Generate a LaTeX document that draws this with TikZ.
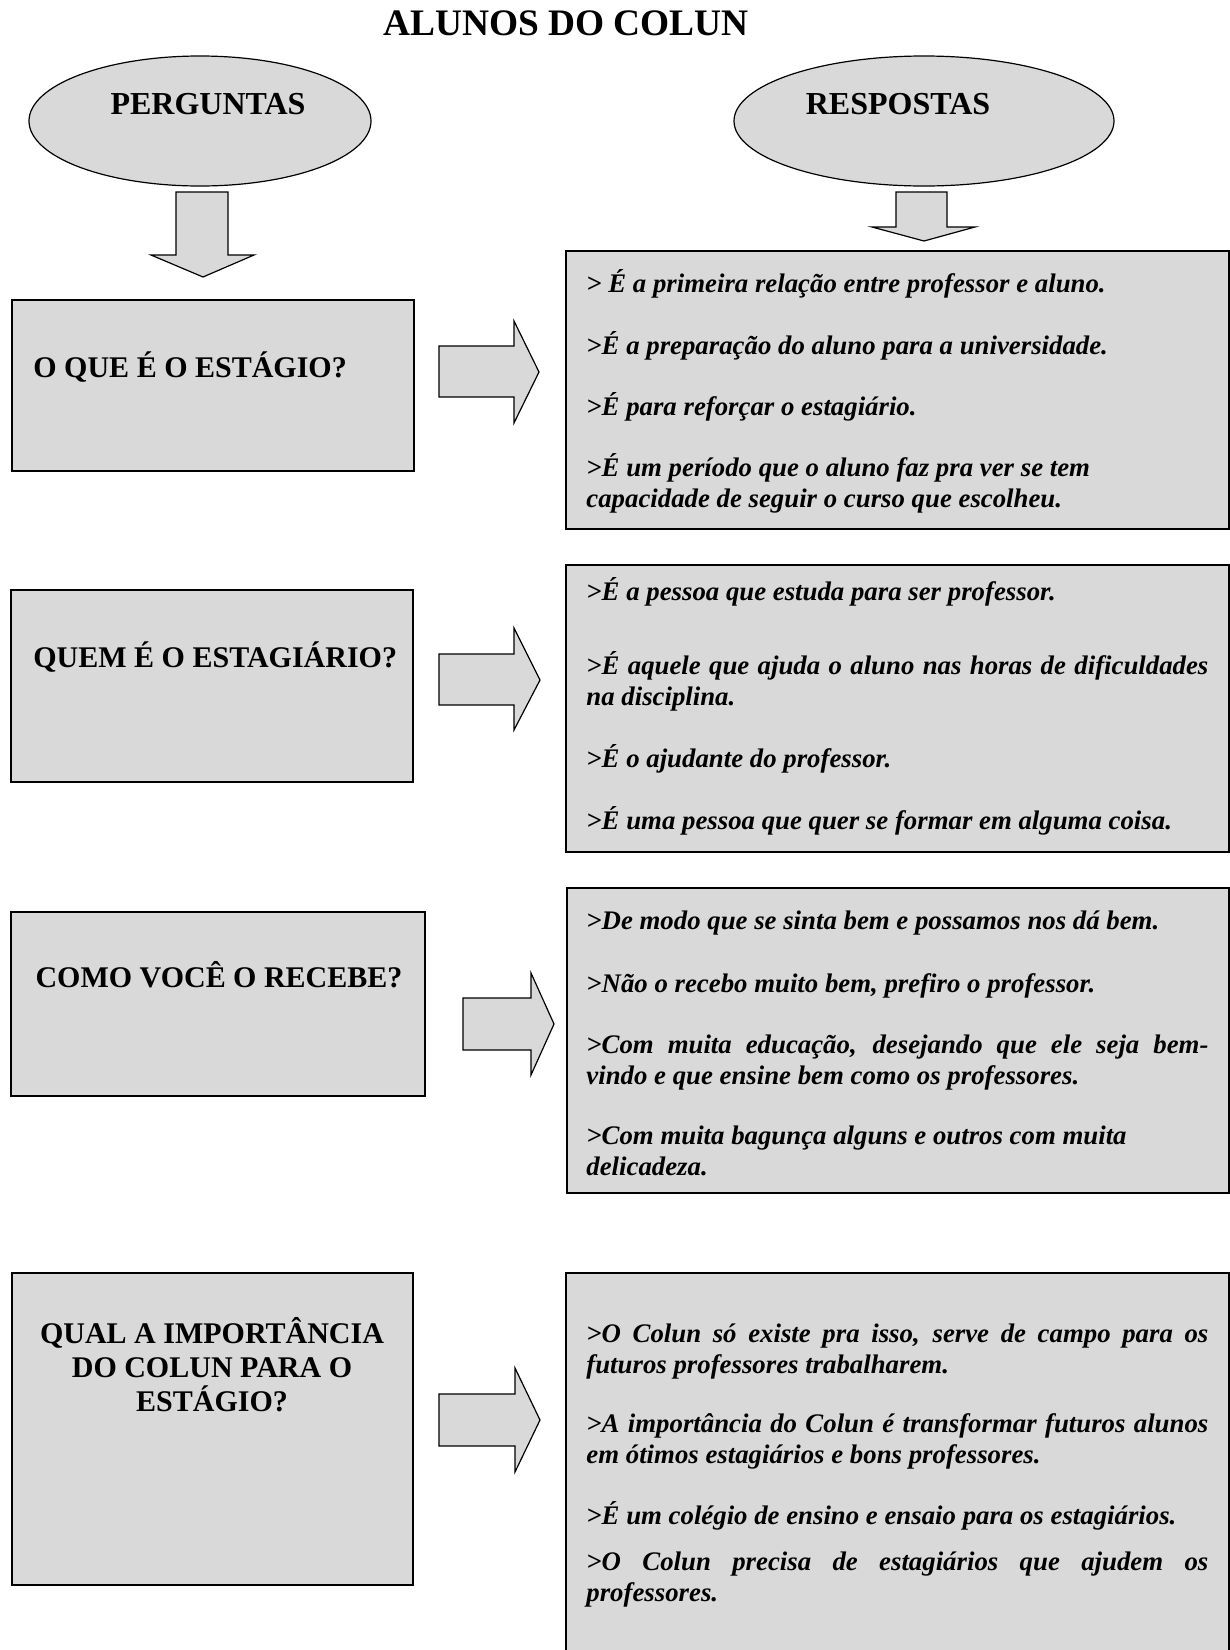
\documentclass[tikz,border=0pt]{standalone}
\usepackage{fontspec}
\setmainfont{Liberation Serif}
\usetikzlibrary{shapes.geometric}
\hyphenpenalty=10000
\begin{document}
\begin{tikzpicture}[x=0.5pt,y=-0.5pt,
  box/.style={draw, fill=black!15, line width=0.9pt},
  oval/.style={draw, fill=black!15, line width=0.6pt, ellipse, inner sep=0pt},
  blockarrow/.style={draw, fill=black!15, line width=0.6pt},
  title/.style={font=\fontsize{18.7}{20}\selectfont\bfseries, anchor=base, inner sep=0pt},
  head/.style={font=\fontsize{16}{18}\selectfont\bfseries, anchor=base, inner sep=0pt},
  quest/.style={font=\fontsize{15}{17}\selectfont\bfseries, inner sep=0pt},
  resp/.style={font=\fontsize{13.4}{15.5}\selectfont\bfseries\itshape, anchor=base west, inner sep=0pt, text width=311pt, align=justify}]
\useasboundingbox (0,0) rectangle (1230,1650);
\node[title] (titulo) at (566,35) {ALUNOS DO COLUN};
\node[oval, minimum width=171pt, minimum height=65pt] (ovp) at (200,121) {};
\node[oval, minimum width=190pt, minimum height=65pt] (ovr) at (924,121) {};
\node[head] (perg) at (208,114) {PERGUNTAS};
\node[head] (resp) at (898,114) {RESPOSTAS};
\draw[blockarrow] (176,192) -- (228,192) -- (228,255) -- (254,255) -- (203,277) -- (151,255) -- (176,255) -- cycle;
\draw[blockarrow] (896,192) -- (947,192) -- (947,227) -- (975,227) -- (924,241) -- (872,227) -- (896,227) -- cycle;
\draw[box] (12,300) rectangle (414,471);
\node[quest, anchor=base west] (q1) at (33,377) {O QUE É O ESTÁGIO?};
\draw[blockarrow] (439,346) -- (514,346) -- (514,321) -- (539,372) -- (514,423) -- (514,397) -- (439,397) -- cycle;
\draw[box] (566,251) rectangle (1229,529);
\node[resp] (r11) at (586,292) {> É a primeira relação entre professor e aluno.};
\node[resp] (r12) at (586,354) {>É a preparação do aluno para a universidade.};
\node[resp] (r13) at (586,415) {>É para reforçar o estagiário.};
\node[resp] (r14) at (586,476) {>É um período que o aluno faz pra ver se tem\newline capacidade de seguir o curso que escolheu.};
\draw[box] (11,590) rectangle (413,782);
\node[quest, anchor=base west] (q2) at (33,667) {QUEM É O ESTAGIÁRIO?};
\draw[blockarrow] (439,654) -- (514,654) -- (514,628) -- (540,680) -- (514,730) -- (514,705) -- (439,705) -- cycle;
\draw[box] (566,565) rectangle (1229,852);
\node[resp] (r21) at (586,600) {>É a pessoa que estuda para ser professor.};
\node[resp] (r22) at (586,674) {>É aquele que ajuda o aluno nas horas de dificuldades\linebreak na disciplina.};
\node[resp] (r23) at (586,767) {>É o ajudante do professor.};
\node[resp] (r24) at (586,829) {>É uma pessoa que quer se formar em alguma coisa.};
\draw[box] (11,912) rectangle (425,1096);
\node[quest, anchor=base] (q3) at (219,987) {COMO VOCÊ O RECEBE?};
\draw[blockarrow] (463,998) -- (531,998) -- (531,973) -- (554,1024) -- (531,1075) -- (531,1050) -- (463,1050) -- cycle;
\draw[box] (567,888) rectangle (1229,1193);
\node[resp] (r31) at (586,929) {>De modo que se sinta bem e possamos nos dá bem.};
\node[resp] (r32) at (586,992) {>Não o recebo muito bem, prefiro o professor.};
\node[resp] (r33) at (586,1053) {>Com muita educação, desejando que ele seja bem-\linebreak vindo e que ensine bem como os professores.};
\node[resp] (r34) at (586,1144) {>Com muita bagunça alguns e outros com muita\newline delicadeza.};
\draw[box] (12,1273) rectangle (413,1585);
\node[quest, anchor=base, align=center] (q4) at (212,1411) {QUAL A IMPORTÂNCIA\\DO COLUN PARA O\\ESTÁGIO?};
\draw[blockarrow] (439,1394) -- (515,1394) -- (515,1368) -- (540,1420) -- (515,1472) -- (515,1446) -- (439,1446) -- cycle;
\fill[black!15] (566,1273) rectangle (1229,1650);
\draw[line width=0.9pt] (566,1650) -- (566,1273) -- (1229,1273) -- (1229,1650);
\node[resp] (r41) at (586,1342) {>O Colun só existe pra isso, serve de campo para os\linebreak futuros professores trabalharem.};
\node[resp] (r42) at (586,1432) {>A importância do Colun é transformar futuros alunos\linebreak em ótimos estagiários e bons professores.};
\node[resp] (r43) at (586,1524) {>É um colégio de ensino e ensaio para os estagiários.};
\node[resp] (r44) at (586,1570) {>O Colun precisa de estagiários que ajudem os\linebreak professores.};
\end{tikzpicture}
\end{document}
